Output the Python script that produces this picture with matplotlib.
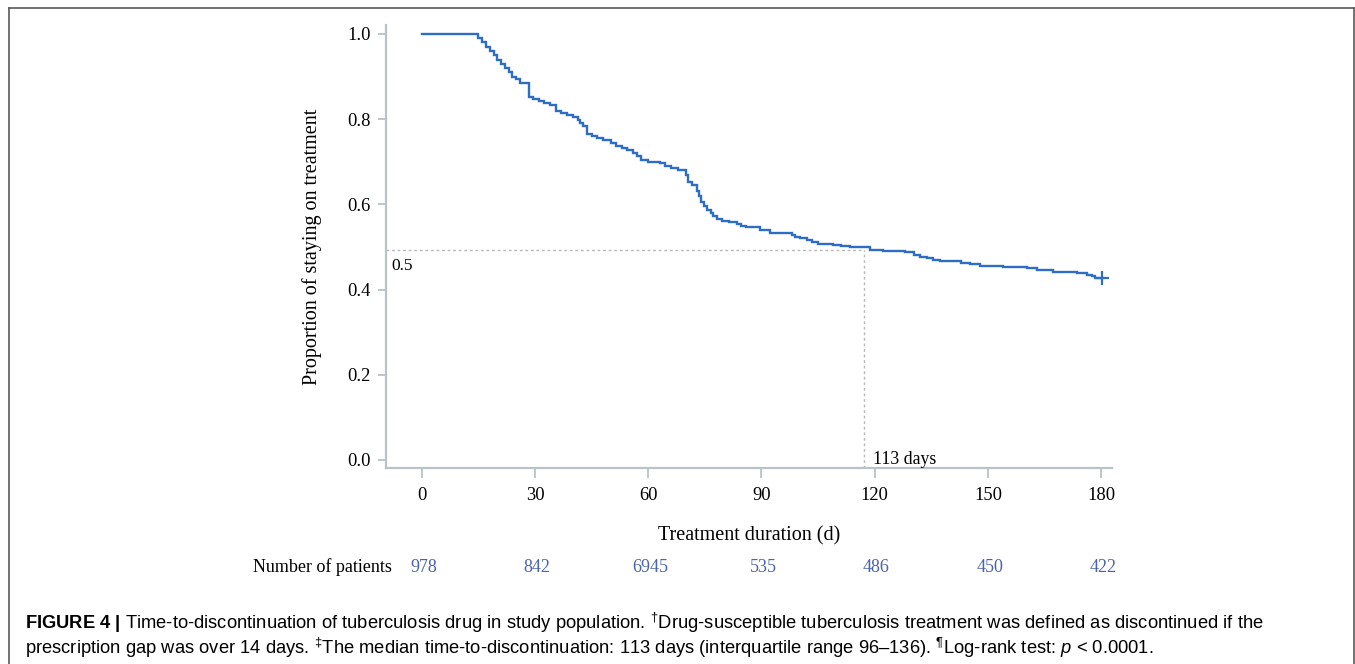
import matplotlib
matplotlib.use("Agg")
import matplotlib.pyplot as plt
import matplotlib.transforms as mtransforms
from matplotlib.lines import Line2D

plt.rcParams['mathtext.fontset'] = 'custom'
plt.rcParams['mathtext.rm'] = 'Liberation Sans'
plt.rcParams['mathtext.it'] = 'Liberation Sans:italic'
plt.rcParams['mathtext.bf'] = 'Liberation Sans:bold'

# ---- data ----
days = [0, 15, 16, 17, 18, 19, 20, 21, 22, 23, 24, 25, 26, 28.5, 29.5, 31, 32.5, 34,
        35.5, 37, 38.5, 40, 41.3, 42, 42.8, 43.7, 45, 46.5, 48, 50, 51.5, 53, 54.5,
        56, 57, 58.2, 60, 63, 64.5, 66, 68, 70, 70.6, 71.5, 72.8, 73.5, 74.1, 74.8,
        75.5, 76.5, 77.2, 78.3, 79.5, 81.5, 83.4, 84.5, 86, 89.6, 92.3, 98, 99,
        100.2, 102, 103.5, 105, 109, 111, 113.5, 118.8, 122.3, 128, 130.3, 132,
        133.8, 135.5, 137.3, 143, 145.3, 148, 154, 160.3, 163, 167.3, 173.6, 176.2,
        177.5, 178.4, 180.2]
survival = [1.0, 0.99, 0.98, 0.97, 0.96, 0.95, 0.94, 0.93, 0.92, 0.91, 0.90, 0.895,
            0.886, 0.853, 0.848, 0.843, 0.838, 0.833, 0.820, 0.815, 0.810, 0.805,
            0.798, 0.790, 0.784, 0.765, 0.760, 0.755, 0.750, 0.743, 0.738, 0.732,
            0.727, 0.720, 0.713, 0.705, 0.700, 0.696, 0.690, 0.685, 0.680, 0.669,
            0.652, 0.645, 0.632, 0.620, 0.606, 0.596, 0.587, 0.580, 0.572, 0.566,
            0.562, 0.558, 0.554, 0.550, 0.546, 0.540, 0.533, 0.528, 0.524, 0.520,
            0.516, 0.512, 0.508, 0.505, 0.501, 0.499, 0.493, 0.490, 0.487, 0.481,
            0.477, 0.473, 0.470, 0.466, 0.463, 0.460, 0.456, 0.454, 0.450, 0.446,
            0.442, 0.438, 0.435, 0.432, 0.428, 0.428]

median_y = 0.493
median_x = 117.2
censor_x = [180.2]
censor_y = [0.428]

x_ticks = [0, 30, 60, 90, 120, 150, 180]
y_ticks = [0.0, 0.2, 0.4, 0.6, 0.8, 1.0]
at_risk = ["978", "842", "6945", "535", "486", "450", "422"]

# ---- figure ----
W, H = 1355, 664
fig = plt.figure(figsize=(W / 100, H / 100), dpi=100)


def fx(p):
    return p / W


def fy(p):
    return 1 - p / H


frame_col = '#5a5a5a'
fig.add_artist(Line2D([fx(9), fx(1354)], [fy(8), fy(8)], color=frame_col, lw=1.2))
fig.add_artist(Line2D([fx(9), fx(9)], [fy(8), fy(664)], color=frame_col, lw=1.2))
fig.add_artist(Line2D([fx(1354), fx(1354)], [fy(8), fy(664)], color=frame_col, lw=1.2))

ax = fig.add_axes([fx(386), fy(468), fx(1112) - fx(386), fy(25) - fy(468)])
ax.set_xlim(-9.5, 182.9)
ax.set_ylim(-0.019, 1.021)

line_col = '#2e6dc4'
ax.step(days, survival, where='post', color=line_col, lw=1.7, solid_joinstyle='miter')
ax.plot(censor_x, censor_y, marker='+', color=line_col, ms=10, mew=1.6, ls='none')

dash_col = '#b8b8b8'
ax.plot([-9.5, median_x], [median_y, median_y], color=dash_col, lw=1.0, ls=(0, (2, 2)))
ax.plot([median_x, median_x], [-0.019, median_y], color=dash_col, lw=1.0, ls=(0, (2, 2)))

serif = 'Liberation Serif'
ax.text(-8, 0.455, "0.5", fontsize=12.5, family=serif, va='center', ha='left')
ax.text(median_x + 2.3, 0.002, "113 days", fontsize=12.8, family=serif, va='center', ha='left')

for s in ['top', 'right']:
    ax.spines[s].set_visible(False)
spine_col = '#b9c2c6'
for s in ['left', 'bottom']:
    ax.spines[s].set_color(spine_col)
    ax.spines[s].set_linewidth(1.6)

ax.set_xticks(x_ticks)
ax.set_yticks(y_ticks)
ax.set_xticklabels([str(t) for t in x_ticks], family=serif, fontsize=13.3)
ax.set_yticklabels([f"{t:.1f}" for t in y_ticks], family=serif, fontsize=13.3)
ax.tick_params(axis='x', length=7, width=1.3, color=spine_col, pad=7)
ax.tick_params(axis='y', length=6, width=1.3, color=spine_col, pad=5)

ax.set_ylabel("Proportion of staying on treatment", family=serif, fontsize=14.5, labelpad=18)
ax.set_xlabel("Treatment duration (d)", family=serif, fontsize=14.5, labelpad=16)

# at-risk numbers
trans = mtransforms.blended_transform_factory(ax.transData, fig.transFigure)
num_col = '#4b63ad'
for t, n in zip(x_ticks, at_risk):
    ax.text(t + 0.5, fy(568), n, transform=trans, ha='center', va='center',
            family=serif, fontsize=13, color=num_col)
fig.text(fx(392), fy(567), "Number of patients", ha='right', va='center',
         family=serif, fontsize=13)

# caption
dag = "\u2020"
ddag = "\u2021"
pil = "\u00b6"
cap1 = ("$\\mathbf{FIGURE\\ 4\\ |}$ Time-to-discontinuation of tuberculosis drug in study population. "
        "$^{" + dag + "}$Drug-susceptible tuberculosis treatment was defined as discontinued if the")
cap2 = ("prescription gap was over 14 days. $^{" + ddag + "}$The median time-to-discontinuation: 113 days "
        "(interquartile range 96\u2013136). $^{" + pil + "}$Log-rank test: $p$ < 0.0001.")
fig.text(fx(25), fy(623), cap1, ha='left', va='center', family='Liberation Sans', fontsize=13.2)
fig.text(fx(25), fy(648), cap2, ha='left', va='center', family='Liberation Sans', fontsize=13.2)

fig.savefig("out.png", dpi=100)
